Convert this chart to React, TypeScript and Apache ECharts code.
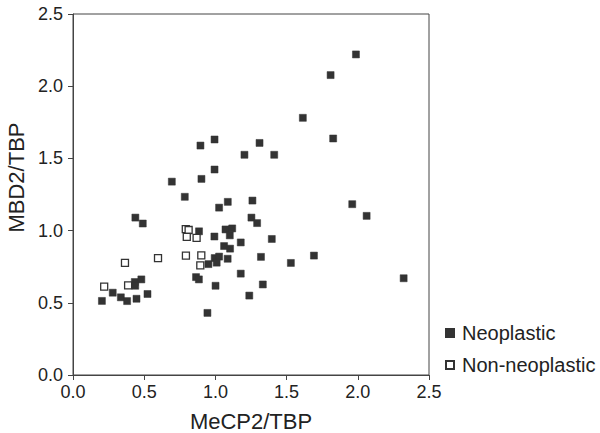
import React, { useEffect, useRef } from "react";
import * as echarts from "echarts";

const neoplasticX = [0.694, 0.785, 0.895, 0.994, 0.902, 0.994, 1.204, 1.31, 1.987, 1.809, 1.614, 1.827, 1.413, 1.026, 1.087, 1.26, 0.438, 0.49, 1.253, 1.293, 0.885, 0.993, 1.071, 1.118, 1.101, 1.061, 1.103, 1.178, 0.951, 0.995, 1.026, 1.009, 1.086, 1.32, 1.178, 0.864, 0.884, 1.001, 1.238, 0.944, 1.333, 1.961, 2.062, 1.396, 1.53, 1.692, 2.322, 0.434, 0.48, 0.437, 0.203, 0.279, 0.336, 0.38, 0.446, 0.523];
const neoplasticY = [1.339, 1.234, 1.589, 1.631, 1.358, 1.423, 1.525, 1.607, 2.22, 2.077, 1.781, 1.638, 1.525, 1.159, 1.199, 1.208, 1.09, 1.049, 1.09, 1.052, 0.995, 0.959, 1.008, 1.015, 0.967, 0.893, 0.875, 0.918, 0.768, 0.81, 0.82, 0.778, 0.805, 0.818, 0.702, 0.678, 0.662, 0.618, 0.55, 0.43, 0.627, 1.183, 1.102, 0.942, 0.776, 0.827, 0.67, 0.644, 0.662, 0.618, 0.513, 0.57, 0.538, 0.512, 0.528, 0.561];

const nonNeoplasticX = [0.792, 0.812, 0.799, 0.868, 0.793, 0.901, 0.894, 0.365, 0.597, 0.219, 0.387];
const nonNeoplasticY = [1.01, 1.004, 0.956, 0.949, 0.827, 0.828, 0.759, 0.776, 0.81, 0.612, 0.62];

const seriesNames = ["Neoplastic", "Non-neoplastic"];
const xTitle = "MeCP2/TBP";
const yTitle = "MBD2/TBP";

const FONT = "'Liberation Sans', Arial, Helvetica, sans-serif";

export default function App() {
  const ref = useRef<HTMLDivElement>(null);
  useEffect(() => {
    if (!ref.current) return;
    const chart = echarts.init(ref.current, null, { renderer: "svg" });
    const neo = neoplasticX.map((x, i) => [x, neoplasticY[i]]);
    const non = nonNeoplasticX.map((x, i) => [x, nonNeoplasticY[i]]);
    const axisCommon = {
      type: "value" as const,
      min: 0,
      max: 2.5,
      interval: 0.5,
      splitLine: { show: false },
      axisLine: { show: true, lineStyle: { color: "#444", width: 1 } },
      axisTick: { show: true, inside: false, length: 5, lineStyle: { color: "#444" } },
      axisLabel: {
        color: "#222",
        fontSize: 18,
        fontFamily: FONT,
        formatter: (v: number) => v.toFixed(1),
      },
      nameLocation: "middle" as const,
      nameTextStyle: { color: "#222", fontSize: 22, fontFamily: FONT },
    };
    chart.setOption({
      animation: false,
      backgroundColor: "#fff",
      grid: {
        left: 73,
        right: 171,
        top: 14,
        bottom: 58,
        show: true,
        borderColor: "#444",
        borderWidth: 1,
        containLabel: false,
        outerBoundsMode: "none",
      },
      xAxis: {
        ...axisCommon,
        name: xTitle,
        nameGap: 35,
        axisLabel: { ...axisCommon.axisLabel, margin: 8 },
      },
      yAxis: {
        ...axisCommon,
        name: yTitle,
        nameGap: 45,
        axisLabel: { ...axisCommon.axisLabel, margin: 10 },
        nameTextStyle: { ...axisCommon.nameTextStyle, padding: [0, 0, 0, 34] },
      },
      legend: {
        orient: "vertical",
        left: 445,
        top: 323,
        padding: 0,
        itemWidth: 8,
        itemHeight: 8,
        itemGap: 12,
        textStyle: { color: "#222", fontSize: 20, fontFamily: FONT, padding: [0, 0, 0, 3] },
        data: seriesNames,
      },
      series: [
        {
          name: seriesNames[0],
          type: "scatter",
          symbol: "rect",
          symbolSize: 7,
          itemStyle: { color: "#333", borderColor: "#333", borderWidth: 0.5, opacity: 1 },
          data: neo,
        },
        {
          name: seriesNames[1],
          type: "scatter",
          symbol: "rect",
          symbolSize: 7,
          itemStyle: { color: "#fff", borderColor: "#333", borderWidth: 1.3, opacity: 1 },
          data: non,
        },
      ],
    });
    return () => chart.dispose();
  }, []);
  return <div ref={ref} style={{ width: 600, height: 433, position: "absolute", left: 0, top: 0 }} />;
}
